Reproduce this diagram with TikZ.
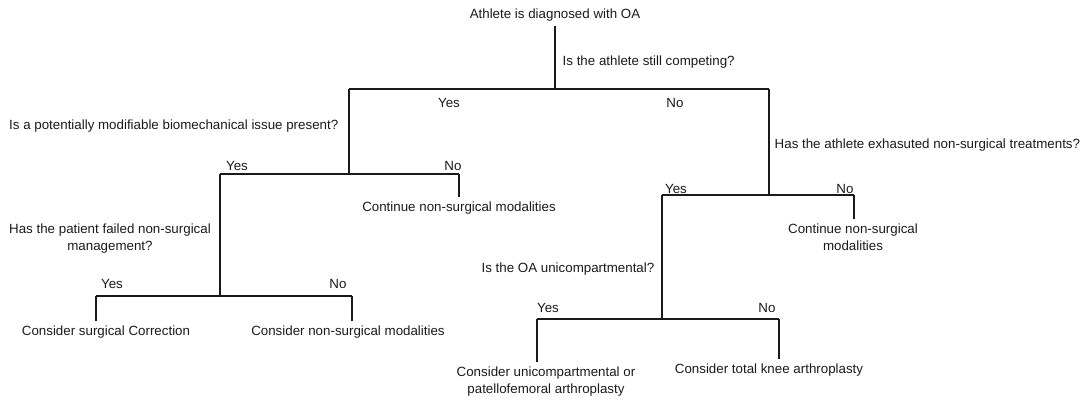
\documentclass[tikz,border=0pt]{standalone}
\usepackage{xcolor}
\usepackage{fontspec}
\setmainfont{Liberation Sans}
\usepackage{tikz}
\usetikzlibrary{positioning, calc}
\definecolor{ink}{HTML}{1A1A1A}

\begin{document}
\begin{tikzpicture}[
  x=0.75pt, y=-0.75pt,
  txt/.style={font=\fontsize{10pt}{12.75pt}\selectfont, text=ink, align=center},
  ans/.style={font=\fontsize{10pt}{12pt}\selectfont, text=ink, inner sep=0pt},
  branch/.style={draw=ink, line width=0.8pt}
]
  \useasboundingbox (0,0) rectangle (1091,401);

  % questions and outcomes
  \node[txt] (root) at (555,15) {Athlete is diagnosed with OA};
  \node[txt, anchor=west] (qcomp) at (558,62) {Is the athlete still competing?};
  \node[txt, anchor=east] (qbio) at (343,126) {Is a potentially modifiable biomechanical issue present?};
  \node[txt] (qfail) at (110,238.5) {Has the patient failed non-surgical\\management?};
  \node[txt, anchor=west] (qexh) at (770,145) {Has the athlete exhasuted non-surgical treatments?};
  \node[txt, anchor=east] (quni) at (659,269) {Is the OA unicompartmental?};

  \node[txt] (cont1) at (459,208) {Continue non-surgical modalities};
  \node[txt] (surg)  at (106,332) {Consider surgical Correction};
  \node[txt] (nons)  at (348,332) {Consider non-surgical modalities};
  \node[txt] (cont2) at (853,237.5) {Continue non-surgical\\modalities};
  \node[txt] (ukapf) at (546,381.5) {Consider unicompartmental or\\patellofemoral arthroplasty};
  \node[txt] (tka)   at (769,370) {Consider total knee arthroplasty};

  % junctions of the tree
  \coordinate (j1) at (555,89);  \coordinate (a1) at (349,89);  \coordinate (b1) at (769,89);
  \coordinate (j2) at (349,174); \coordinate (a2) at (220,174); \coordinate (b2) at (459,174);
  \coordinate (j3) at (220,296); \coordinate (a3) at (96,296);  \coordinate (b3) at (352,296);
  \coordinate (j4) at (769,195); \coordinate (a4) at (662,195); \coordinate (b4) at (854,195);
  \coordinate (j5) at (662,319); \coordinate (a5) at (537,319); \coordinate (b5) at (779,319);

  % yes / no labels
  \node[ans] (y1) at (449,103) {Yes};
  \node[ans] (n1) at (675,103) {No};
  \node[ans] (y2) at (237,166) {Yes};
  \node[ans] (n2) at (453,166) {No};
  \node[ans] (y3) at (112,284) {Yes};
  \node[ans] (n3) at (338,284) {No};
  \node[ans] (y4) at (676,189) {Yes};
  \node[ans] (n4) at (845,189) {No};
  \node[ans] (y5) at (548,308) {Yes};
  \node[ans] (n5) at (767,308) {No};

  \draw[branch] (root) -- (j1);
  \draw[branch] (a1) -- (b1);
  \draw[branch] (a1) -- (j2);
  \draw[branch] (b1) -- (j4);

  \draw[branch] (a2) -- (b2);
  \draw[branch] (b2) -- (cont1);
  \draw[branch] (a2) -- (j3);
  \draw[branch] (a3) -- (b3);
  \draw[branch] (a3) -- (a3 |- surg.north);
  \draw[branch] (b3) -- (b3 |- nons.north);

  \draw[branch] (a4) -- (b4);
  \draw[branch] (b4) -- (b4 |- cont2.north);
  \draw[branch] (a4) -- (j5);
  \draw[branch] (a5) -- (b5);
  \draw[branch] (a5) -- (a5 |- ukapf.north);
  \draw[branch] (b5) -- (b5 |- tka.north);
\end{tikzpicture}
\end{document}
